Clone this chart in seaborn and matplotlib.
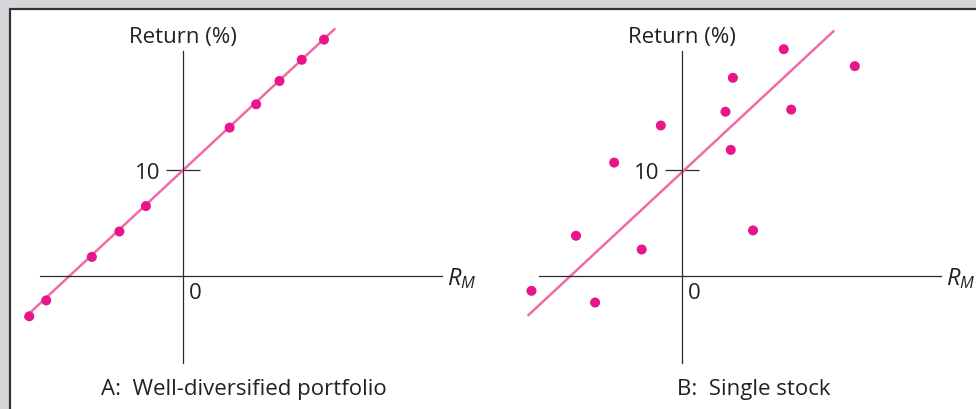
import numpy as np
import pandas as pd
import matplotlib
matplotlib.use("Agg")
import matplotlib.pyplot as plt
from matplotlib.patches import Rectangle
import seaborn as sns

# data (return in %)
a_rm = [-14.5, -12.9, -8.6, -6.0, -3.5, 4.4, 6.9, 9.1, 11.2, 13.3]
a_ret = [-3.8, -2.3, 1.8, 4.2, 6.6, 14.0, 16.2, 18.4, 20.4, 22.3]
a_line_x = [-14.9, 14.3]
a_line_y = [-3.9, 23.3]

b_rm = [-14.2, -8.2, -10.0, -3.8, -6.4, -2.0, 4.1, 4.8, 4.6, 6.7, 9.6, 10.3, 16.3]
b_ret = [-1.4, -2.5, 3.8, 2.5, 10.7, 14.2, 15.5, 18.7, 11.9, 4.3, 21.4, 15.7, 19.8]
b_line_x = [-14.5, 14.3]
b_line_y = [-3.7, 23.1]

captions = ["A:  Well-diversified portfolio", "B:  Single stock"]
y_label = "Return (%)"
y_ticks = [10]

dot_color = "#e8168a"
line_color = "#f06aa5"
axis_color = "#2b2b2b"
text_color = "#222222"

sns.set_theme(style="white")
plt.rcParams["font.family"] = ["Open Sans", "DejaVu Sans"]
plt.rcParams["mathtext.fontset"] = "custom"
plt.rcParams["mathtext.it"] = "Open Sans:italic"
plt.rcParams["mathtext.rm"] = "Open Sans"

fig = plt.figure(figsize=(9.76, 4.10), dpi=100)
fig.patch.set_facecolor("#d5d6d9")
# white panel with dark top/left edge
fig.patches.append(Rectangle((10 / 976, 0), 1, 400 / 410, transform=fig.transFigure,
                             facecolor="white", edgecolor="none", zorder=-10))
fig.lines.append(plt.Line2D([9.5 / 976, 1], [400.5 / 410] * 2, transform=fig.transFigure,
                            color="#333333", lw=1.6, zorder=-5))
fig.lines.append(plt.Line2D([9.5 / 976] * 2, [0, 400.5 / 410], transform=fig.transFigure,
                            color="#333333", lw=1.6, zorder=-5))

panels = [
    (a_rm, a_ret, a_line_x, a_line_y, 13.4 / 976, 5.75),
    (b_rm, b_ret, b_line_x, b_line_y, 512.4 / 976, 6.8),
]

for i, (xs, ys, lx, ly, left, cap_x) in enumerate(panels):
    ax = fig.add_axes([left, 0.0917, 0.4779, 0.8402])
    ax.patch.set_alpha(0)
    ax.set_xlim(-16, 28)
    ax.set_ylim(-9, 23.5)

    df = pd.DataFrame({"rm": xs, "ret": ys})
    line_df = pd.DataFrame({"rm": lx, "ret": ly})
    sns.lineplot(data=line_df, x="rm", y="ret", ax=ax, color=line_color, lw=1.8, zorder=2)
    sns.scatterplot(data=df, x="rm", y="ret", ax=ax, color=dot_color, s=52,
                    edgecolor="none", zorder=3)

    for side in ["top", "right"]:
        ax.spines[side].set_visible(False)
    ax.spines["left"].set_position(("data", 0))
    ax.spines["bottom"].set_position(("data", 0))
    ax.spines["left"].set_bounds(-8.2, 21.2)
    ax.spines["bottom"].set_bounds(-13.5, 24.4)
    for side in ["left", "bottom"]:
        ax.spines[side].set_color(axis_color)
        ax.spines[side].set_linewidth(0.9)

    ax.set_xticks([])
    ax.set_yticks(y_ticks)
    ax.set_yticklabels([str(t) for t in y_ticks])
    ax.tick_params(axis="y", direction="inout", length=24, width=0.9, color=axis_color,
                   labelsize=16, labelcolor=text_color, pad=4.5, left=True)
    ax.set_xlabel("")
    ax.set_ylabel("")

    ax.annotate("0", (0, 0), xytext=(4.5, -4), textcoords="offset points",
                ha="left", va="top", fontsize=16, color=text_color)
    ax.annotate("$R_M$", (24.4, 0), xytext=(4, -1), textcoords="offset points",
                ha="left", va="center", fontsize=17, color=text_color)
    ax.text(0, 22.6, y_label, ha="center", va="center", fontsize=16, color=text_color)
    ax.text(cap_x, -10.6, captions[i], ha="center", va="center",
            fontsize=16, color=text_color, clip_on=False)

fig.savefig("out.png", dpi=100, facecolor=fig.get_facecolor())
